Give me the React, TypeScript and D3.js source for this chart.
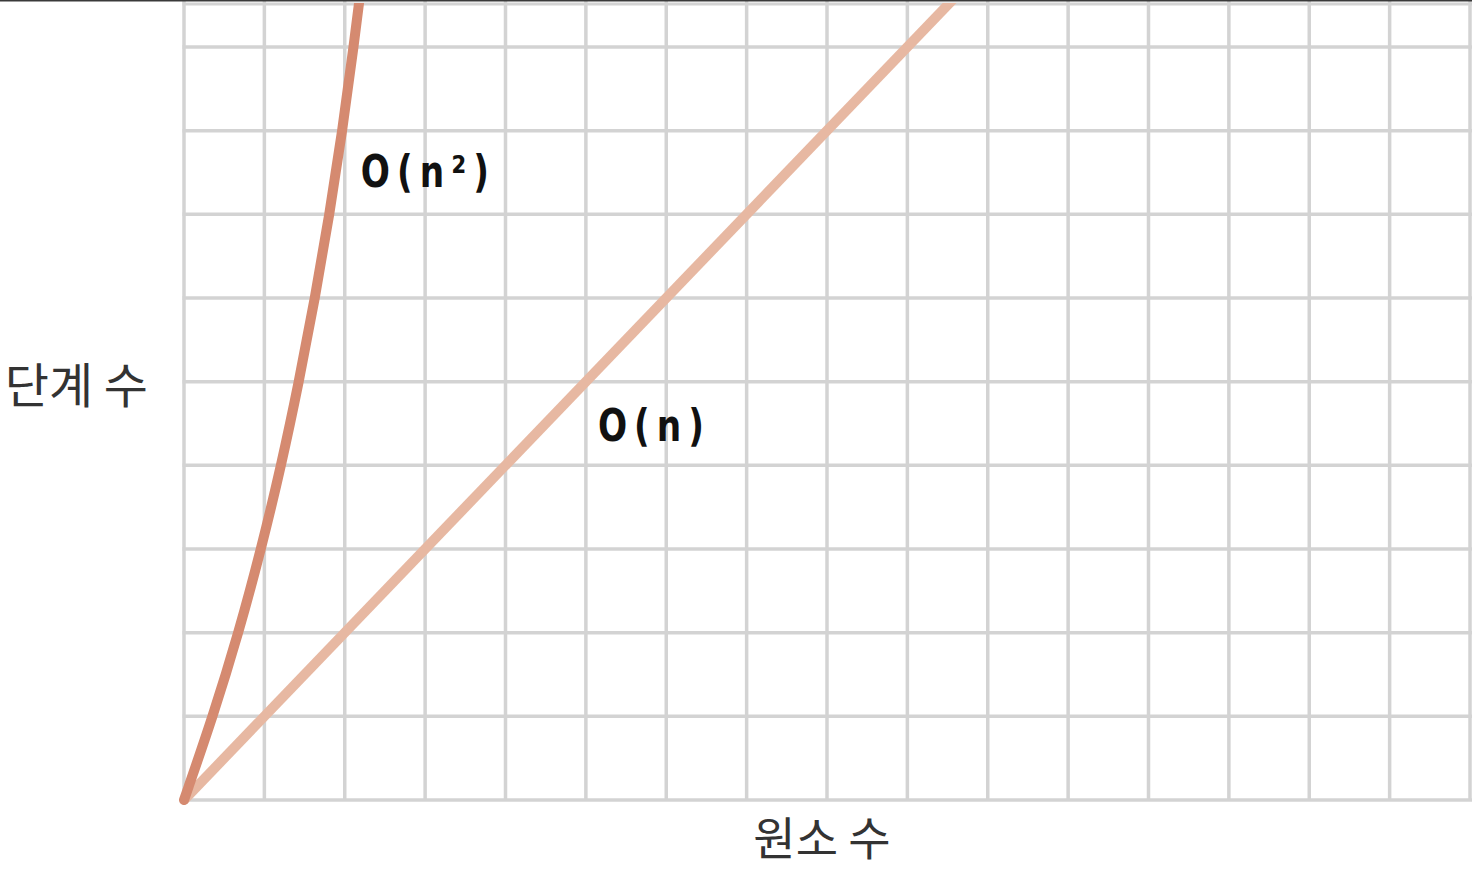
import React from "react";
import * as d3 from "d3";

// grid: 16 columns of "elements", ~9.5 rows of "steps"
const elementTicks = d3.range(0, 17);
const stepTicks = d3.range(0, 10);

// O(n): steps grow one-for-one with elements
const linearElements = [0, 12];
const linearSteps = [0, 12];

// O(n^2), one point per grid row
const quadElements = [0, 0.36, 0.68, 0.96, 1.21, 1.43, 1.63, 1.81, 1.97, 2.11, 2.24];
const quadSteps = [0, 1, 2, 3, 4, 5, 6, 7, 8, 9, 10];

const labelTexts = ["O(n²)", "O(n)"];
const labelElements = [2.2, 5.15];
const labelSteps = [7.33, 4.29];

const App = () => {
  const width = 1472,
    height = 872,
    left = 184,
    top = 3,
    bottom = 800;

  const x = d3
    .scaleLinear()
    .domain([0, 16])
    .range([left, left + 16 * 80.375]);
  const y = d3
    .scaleLinear()
    .domain([0, 9])
    .range([bottom, bottom - 9 * 83.67]);

  const line = d3
    .line<[number, number]>()
    .x((d) => x(d[0]))
    .y((d) => y(d[1]))
    .curve(d3.curveBasis);

  const quadPts = quadElements.map((e, i) => [e, quadSteps[i]] as [number, number]);
  const linPts = linearElements.map((e, i) => [e, linearSteps[i]] as [number, number]);

  const gridColor = "#d3d3d3";

  return (
    <svg
      width={width}
      height={height}
      viewBox={`0 0 ${width} ${height}`}
      style={{ position: "absolute", left: 0, top: 0, background: "#fff" }}
    >
      <defs>
        <clipPath id="plot">
          <rect x={left - 10} y={top} width={width} height={bottom - top + 10} />
        </clipPath>
      </defs>

      {/* grid */}
      <g>
        {elementTicks.map((t) => (
          <line
            key={"v" + t}
            x1={x(t)}
            x2={x(t)}
            y1={0}
            y2={bottom}
            stroke={gridColor}
            strokeWidth={3.5}
          />
        ))}
        {stepTicks.map((t) => (
          <line
            key={"h" + t}
            x1={left - 1.5}
            x2={width}
            y1={y(t)}
            y2={y(t)}
            stroke={gridColor}
            strokeWidth={3.5}
          />
        ))}
        <line x1={left - 1.5} x2={width} y1={top + 1} y2={top + 1} stroke={gridColor} strokeWidth={3} />
      </g>

      <g clipPath="url(#plot)">
        <path
          d={line(linPts) ?? ""}
          fill="none"
          stroke="#e7b8a2"
          strokeWidth={10}
        />
        <path
          d={line(quadPts) ?? ""}
          fill="none"
          stroke="#d58a70"
          strokeWidth={10}
          strokeLinecap="round"
        />
      </g>

      {/* top border */}
      <rect x={0} y={0} width={width} height={1.5} fill="#3a3a3a" />

      {labelTexts.map((t, i) => (
        <text
          key={t}
          transform={`translate(${x(labelElements[i])},${y(labelSteps[i])}) scale(0.78,1)`}
          fill="#111"
          fontFamily="'DejaVu Sans', sans-serif"
          fontWeight="bold"
          fontSize={44}
          letterSpacing={9}
        >
          {t}
        </text>
      ))}

      <text
        x={148}
        y={y(4.95)}
        dy="0.35em"
        textAnchor="end"
        fill="#333"
        fontFamily="'Noto Sans CJK KR', sans-serif"
        fontSize={48}
      >
        단계 수
      </text>
      <text
        x={822}
        y={855}
        textAnchor="middle"
        fill="#333"
        fontFamily="'Noto Sans CJK KR', sans-serif"
        fontSize={46}
      >
        원소 수
      </text>
    </svg>
  );
};

export default App;
